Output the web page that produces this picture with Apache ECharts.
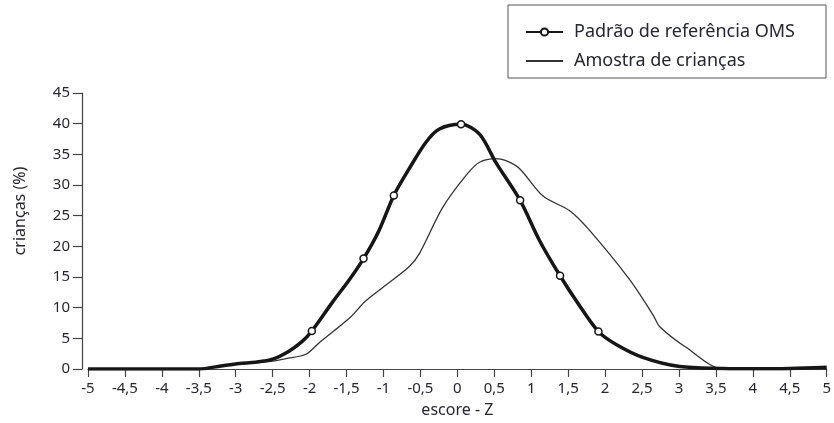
<!DOCTYPE html>
<html>
<head>
<meta charset="utf-8">
<script src="https://cdn.jsdelivr.net/npm/echarts@6/dist/echarts.min.js"></script>
<style>
  html, body { margin: 0; padding: 0; background: #fff; }
  #chart { width: 834px; height: 423px; }
</style>
</head>
<body>
<div id="chart"></div>
<script>
// WHO reference curve (thick line)
const whoX = [-5, -4, -3.5, -3.2, -2.95, -2.73, -2.5, -2.28, -2.1, -1.97, -1.69, -1.46, -1.27, -1.06, -0.86, -0.65, -0.43, -0.25, 0.05, 0.3, 0.52, 0.85, 1.11, 1.39, 1.65, 1.91, 2.15, 2.51, 3.01, 3.6, 4, 4.5, 5];
const whoY = [0, 0, 0, 0.5, 0.9, 1.1, 1.6, 2.9, 4.5, 6.2, 10.9, 14.6, 18, 22.6, 28.3, 32.7, 36.9, 39.1, 39.9, 38.3, 33.7, 27.5, 21, 15.2, 10.4, 6.1, 4, 1.9, 0.4, 0.1, 0.05, 0.1, 0.3];
// open circle markers on the WHO curve
const markX = [-1.97, -1.27, -0.86, 0.05, 0.85, 1.39, 1.91];
const markY = [6.2, 18, 28.3, 39.9, 27.5, 15.2, 6.1];
// children sample (thin line)
const sampleX = [-5, -3.5, -3.2, -3, -2.75, -2.5, -2.32, -2.05, -1.87, -1.46, -1.25, -1.01, -0.65, -0.51, -0.2, 0.12, 0.3, 0.52, 0.65, 0.84, 1.16, 1.52, 1.79, 2.33, 2.65, 2.74, 3.1, 3.6, 4, 5];
const sampleY = [0, 0, 0.5, 0.8, 1, 1.3, 1.7, 2.4, 4.3, 8.3, 11, 13.3, 16.7, 18.9, 26.3, 31.6, 33.7, 34.3, 34, 32.7, 28.2, 25.8, 22.6, 14.6, 8.8, 6.9, 3.5, 0, 0, 0];

const seriesNames = ['Padrão de referência OMS', 'Amostra de crianças'];
const xAxisName = 'escore - Z';
const yAxisName = 'crianças (%)';

const zip = (xs, ys) => xs.map((x, i) => [x, ys[i]]);
const font = 'Noto Sans';
const ink = '#262630';

const chart = echarts.init(document.getElementById('chart'));

chart.setOption({
  backgroundColor: '#fff',
  animation: false,
  textStyle: { fontFamily: font },
  grid: { left: 88, right: 7, top: 93, bottom: 48 },
  graphic: [{
    type: 'rect',
    shape: { x: 508, y: 5, width: 318, height: 73 },
    style: { fill: 'none', stroke: '#555', lineWidth: 1 }
  }],
  legend: {
    orient: 'vertical',
    left: 525,
    top: 23,
    padding: 0,
    itemWidth: 37,
    itemHeight: 9,
    itemGap: 11,
    textStyle: { fontFamily: font, fontSize: 18, color: ink, padding: [0, 0, 0, 6] },
    data: [
      { name: seriesNames[0] },
      { name: seriesNames[1], itemStyle: { opacity: 0, color: 'rgba(0,0,0,0)', borderWidth: 0 } }
    ]
  },
  xAxis: {
    type: 'value',
    min: -5,
    max: 5,
    interval: 0.5,
    name: xAxisName,
    nameLocation: 'middle',
    nameGap: 33,
    nameTextStyle: { fontFamily: font, fontSize: 16, color: ink },
    splitLine: { show: false },
    axisLine: { lineStyle: { color: '#444', width: 1.2 } },
    axisTick: { length: 8, lineStyle: { color: '#444', width: 1.2 } },
    axisLabel: {
      margin: 12,
      fontSize: 15,
      color: ink,
      formatter: v => String(v).replace('.', ',')
    }
  },
  yAxis: {
    type: 'value',
    min: 0,
    max: 45,
    interval: 5,
    offset: 6,
    name: yAxisName,
    nameLocation: 'middle',
    nameGap: 54,
    nameTextStyle: { fontFamily: font, fontSize: 16, color: ink, padding: [0, 0, 0, 40] },
    splitLine: { show: false },
    axisLine: { show: true, onZero: false, lineStyle: { color: '#444', width: 1.2 } },
    axisTick: { show: true, length: 9, lineStyle: { color: '#444', width: 1.2 } },
    axisLabel: { margin: 12, fontSize: 15, color: ink }
  },
  series: [
    {
      name: seriesNames[0],
      type: 'line',
      data: zip(whoX, whoY),
      smooth: 0.3,
      showSymbol: false,
      symbol: 'circle',
      symbolSize: 7,
      z: 3,
      lineStyle: { color: '#161616', width: 3.5 },
      itemStyle: { color: '#fff', borderColor: '#161616', borderWidth: 1.5 }
    },
    {
      name: seriesNames[1],
      type: 'line',
      data: zip(sampleX, sampleY),
      smooth: 0.3,
      showSymbol: false,
      z: 2,
      lineStyle: { color: '#333', width: 1.3 },
      itemStyle: { color: '#333' }
    },
    {
      name: 'marcadores',
      type: 'scatter',
      data: zip(markX, markY),
      symbol: 'circle',
      symbolSize: 7,
      z: 4,
      itemStyle: { color: '#fff', borderColor: '#161616', borderWidth: 1.5, opacity: 1 }
    }
  ]
});
</script>
</body>
</html>
